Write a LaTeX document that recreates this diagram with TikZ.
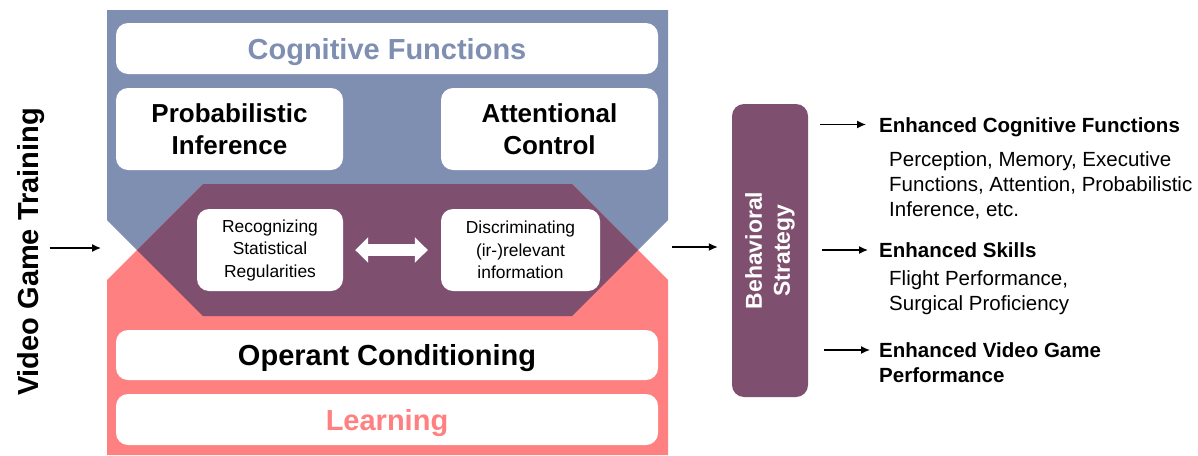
\documentclass[tikz,border=0pt]{standalone}
\usepackage{fontspec}
\setmainfont{Liberation Sans}
\usepackage{tikz}
\usetikzlibrary{arrows.meta}
\usetikzlibrary{positioning}
\definecolor{cogblue}{RGB}{127,143,177}
\definecolor{learnpink}{RGB}{255,128,128}
\definecolor{mixpurple}{RGB}{127,79,111}

\begin{document}
\begin{tikzpicture}[x=1pt,y=-1pt,
  wbox/.style={fill=white,rounded corners=12pt,inner sep=0pt,align=center},
  big/.style={font=\fontsize{29}{34}\selectfont\bfseries,text height=21pt,text depth=0pt},
  mid/.style={font=\fontsize{26}{32}\selectfont\bfseries},
  small/.style={font=\fontsize{17.4}{22.5}\selectfont},
  head/.style={font=\fontsize{20.5}{25}\selectfont\bfseries,inner sep=0pt,anchor=west,text height=15pt,text depth=0pt},
  side/.style={font=\fontsize{20.5}{25}\selectfont,inner sep=0pt,align=left,anchor=north west},
  arr/.style={-{Latex[length=9pt,width=8pt]},line width=1.4pt}]
  \useasboundingbox (0,0) rectangle (1198,455);

  \fill[cogblue] (107,10)--(668,10)--(668,220)--(572,316)--(203,316)--(107,220)--cycle;
  \fill[learnpink] (107,455)--(107,280)--(203,184)--(572,184)--(668,280)--(668,455)--cycle;
  \fill[mixpurple] (203,184)--(572,184)--(638,250)--(572,316)--(203,316)--(137,250)--cycle;

  \node[wbox,big,text=cogblue,minimum width=542pt,minimum height=51pt] (cog) at (387,48.5) {Cognitive Functions};
  \node[wbox,mid,minimum width=227pt,minimum height=82pt] (prob) at (229.5,129) {Probabilistic\\Inference};
  \node[wbox,mid,minimum width=217pt,minimum height=82pt] (att) at (549.5,129) {Attentional\\Control};
  \node[wbox,small,minimum width=146pt,minimum height=82pt] (rec) at (270,250) {Recognizing\\Statistical\\Regularities};
  \node[wbox,small,minimum width=159pt,minimum height=82pt] (dis) at (520.5,250) {Discriminating\\(ir-)relevant\\information};
  \node[wbox,big,minimum width=542pt,minimum height=50pt] (op) at (387,355) {Operant Conditioning};
  \node[wbox,big,text=learnpink,minimum width=542pt,minimum height=51pt] (learn) at (387,419.5) {Learning};

  \node[big,rotate=90,inner sep=0pt] (vgt) at (28,252) {Video Game Training};
  \node[fill=mixpurple,rounded corners=12pt,rotate=90,minimum width=293pt,minimum height=76pt,inner sep=0pt,
        text=white,align=center,font=\fontsize{23}{28}\selectfont\bfseries] (bs) at (770,250.5) {Behavioral\\Strategy};

  \node[head] (t1) at (879,124.5) {Enhanced Cognitive Functions};
  \node[side] (d1) at (889,151) {Perception, Memory, Executive\\Functions, Attention, Probabilistic\\Inference, etc.};
  \node[head] (t2) at (879,250) {Enhanced Skills};
  \node[side] (d2) at (889,270) {Flight Performance,\\Surgical Proficiency};
  \node[head] (t3) at (879,350) {Enhanced Video Game};
  \node[head] (t4) at (879,375) {Performance};

  \coordinate (vin) at (101,248);
  \coordinate (vout) at (672,247);

  \draw[white,line width=12pt,{Triangle[length=13pt,width=25pt]}-{Triangle[length=13pt,width=25pt]},shorten <=12pt,shorten >=13pt] (rec) -- (dis);
  \draw[arr,shorten <=11pt] (vgt.south |- vin) -- (vin);
  \draw[arr,shorten >=14pt] (vout) -- (vout -| bs.north);
  \draw[arr,shorten <=12pt,shorten >=13pt] (bs.south |- t1.west) -- (t1.west);
  \draw[arr,shorten <=14pt,shorten >=11pt] (bs.south |- t2.west) -- (t2.west);
  \draw[arr,shorten <=16pt,shorten >=9pt] (bs.south |- t3.west) -- (t3.west);
\end{tikzpicture}
\end{document}
